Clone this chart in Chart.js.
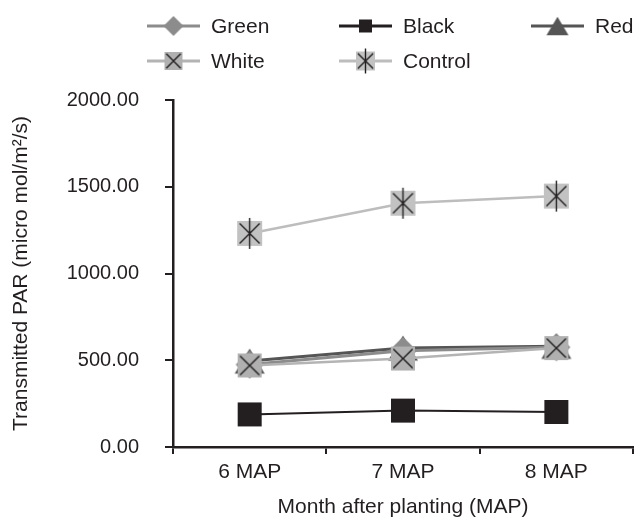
<!DOCTYPE html>
<html>
<head>
<meta charset="utf-8">
<script src="https://cdn.jsdelivr.net/npm/chart.js@4.4.1/dist/chart.umd.min.js"></script>
<style>
  html, body { margin: 0; padding: 0; background: #fff; }
  #wrap { width: 634px; height: 522px; }
</style>
</head>
<body>
<div id="wrap"><canvas id="line-chartcanvas" width="634" height="522"></canvas></div>
<script>
var categories = ['6 MAP', '7 MAP', '8 MAP'];
var seriesNames = ['Green', 'Black', 'Red', 'White', 'Control'];
var greenValues = [475, 555, 575];
var blackValues = [188, 210, 202];
var redValues = [495, 570, 580];
var whiteValues = [470, 510, 570];
var controlValues = [1231, 1405, 1446];
var yTickValues = [0, 500, 1000, 1500, 2000];

var FONT = "'Liberation Sans', Arial, Helvetica, sans-serif";
var INK = '#231f20';

// draw a marker onto its own small canvas, used as pointStyle
function makeMarker(kind, size, fill) {
	var pad = 4;
	var c = document.createElement('canvas');
	c.width = size + pad * 2;
	c.height = size + pad * 2;
	var g = c.getContext('2d');
	var o = pad, s = size;
	g.fillStyle = fill;
	g.strokeStyle = INK;
	g.lineWidth = 1.4;
	if (kind === 'diamond') {
		g.beginPath();
		g.moveTo(o + s / 2, o);
		g.lineTo(o + s, o + s / 2);
		g.lineTo(o + s / 2, o + s);
		g.lineTo(o, o + s / 2);
		g.closePath();
		g.fill();
	} else if (kind === 'square') {
		g.fillRect(o, o, s, s);
	} else if (kind === 'triangle') {
		g.beginPath();
		g.moveTo(o + s / 2, o + s * 0.08);
		g.lineTo(o + s, o + s * 0.92);
		g.lineTo(o, o + s * 0.92);
		g.closePath();
		g.fill();
	} else if (kind === 'cross' || kind === 'star') {
		g.fillRect(o, o, s, s);
		var i = s * 0.1;
		g.beginPath();
		g.moveTo(o + i, o + i);
		g.lineTo(o + s - i, o + s - i);
		g.moveTo(o + s - i, o + i);
		g.lineTo(o + i, o + s - i);
		if (kind === 'star') {
			g.moveTo(o + s / 2, o - 3);
			g.lineTo(o + s / 2, o + s + 3);
		}
		g.stroke();
	}
	return c;
}

var datasets = [
	{
		label : seriesNames[0],
		data : greenValues,
		borderColor : '#8c8c8c',
		borderWidth : 3,
		pointStyle : makeMarker('diamond', 28, '#8c8c8c'),
		legendMarker : makeMarker('diamond', 20, '#8c8c8c'),
		order : 1
	},
	{
		label : seriesNames[1],
		data : blackValues,
		borderColor : INK,
		borderWidth : 2,
		pointStyle : makeMarker('square', 24, INK),
		legendMarker : makeMarker('square', 13, INK),
		order : 3
	},
	{
		label : seriesNames[2],
		data : redValues,
		borderColor : '#555555',
		borderWidth : 3,
		pointStyle : makeMarker('triangle', 30, '#555555'),
		legendMarker : makeMarker('triangle', 22, '#555555'),
		order : 2
	},
	{
		label : seriesNames[3],
		data : whiteValues,
		borderColor : '#b4b4b4',
		borderWidth : 2.5,
		pointStyle : makeMarker('cross', 24, '#b0b0b0'),
		legendMarker : makeMarker('cross', 18, '#b0b0b0'),
		order : 0
	},
	{
		label : seriesNames[4],
		data : controlValues,
		borderColor : '#bdbdbd',
		borderWidth : 2.5,
		pointStyle : makeMarker('star', 25, '#c2c2c2'),
		legendMarker : makeMarker('star', 19, '#c2c2c2'),
		order : 4
	}
];
datasets.forEach(function(d) {
	d.fill = false;
	d.lineTension = 0;
	d.pointRadius = 12;
	d.backgroundColor = d.borderColor;
});

// legend laid out as a 3-column grid above the plot
var gridLegend = {
	id : 'gridLegend',
	afterDraw : function(chart) {
		var ctx = chart.ctx;
		ctx.save();
		chart.data.datasets.forEach(function(ds, i) {
			var x = 147 + (i % 3) * 192;
			var y = 26 + Math.floor(i / 3) * 35;
			ctx.strokeStyle = ds.borderColor;
			ctx.lineWidth = 3;
			ctx.beginPath();
			ctx.moveTo(x, y);
			ctx.lineTo(x + 53, y);
			ctx.stroke();
			var m = ds.legendMarker;
			ctx.drawImage(m, x + 26.5 - m.width / 2, y - m.height / 2);
			ctx.fillStyle = INK;
			ctx.font = '21px ' + FONT;
			ctx.textBaseline = 'middle';
			ctx.textAlign = 'left';
			ctx.fillText(ds.label, x + 64, y + 1);
		});
		ctx.restore();
	}
};

var ctx = document.getElementById('line-chartcanvas');

var chart = new Chart(ctx, {
	type : 'line',
	data : {
		labels : categories,
		datasets : datasets
	},
	options : {
		responsive : false,
		animation : false,
		layout : {
			autoPadding : false,
			padding : { top : 100, right : 1, left : 0, bottom : 0 }
		},
		plugins : {
			legend : { display : false },
			tooltip : { enabled : false }
		},
		scales : {
			x : {
				offset : true,
				grid : {
					offset : true,
					drawOnChartArea : false,
					drawTicks : true,
					tickLength : 7,
					color : INK,
					lineWidth : 2
				},
				border : { display : true, color : INK, width : 2.5 },
				ticks : {
					color : INK,
					font : { family : FONT, size : 21 },
					padding : 6,
					maxRotation : 0
				},
				title : {
					display : true,
					text : 'Month after planting (MAP)',
					color : INK,
					font : { family : FONT, size : 21 },
					padding : { top : 0, bottom : 2 }
				},
				afterFit : function(scale) {
					scale.height = 75;
					scale.paddingLeft = 0;
					scale.paddingRight = 0;
				}
			},
			y : {
				min : yTickValues[0],
				max : yTickValues[yTickValues.length - 1],
				afterBuildTicks : function(scale) {
					scale.ticks = yTickValues.map(function(v) { return { value : v }; });
				},
				grid : {
					drawOnChartArea : false,
					drawTicks : true,
					tickLength : 8,
					color : INK,
					lineWidth : 2
				},
				border : { display : true, color : INK, width : 2.5 },
				ticks : {
					color : INK,
					font : { family : FONT, size : 20 },
					padding : 26,
					callback : function(v) { return Number(v).toFixed(2); }
				},
				title : {
					display : true,
					text : 'Transmitted PAR (micro mol/m\u00b2/s)',
					color : INK,
					font : { family : FONT, size : 21 },
					padding : { top : 9, bottom : 0 }
				},
				afterFit : function(scale) { scale.width = 173; }
			}
		}
	},
	plugins : [gridLegend]
});
</script>
</body>
</html>
